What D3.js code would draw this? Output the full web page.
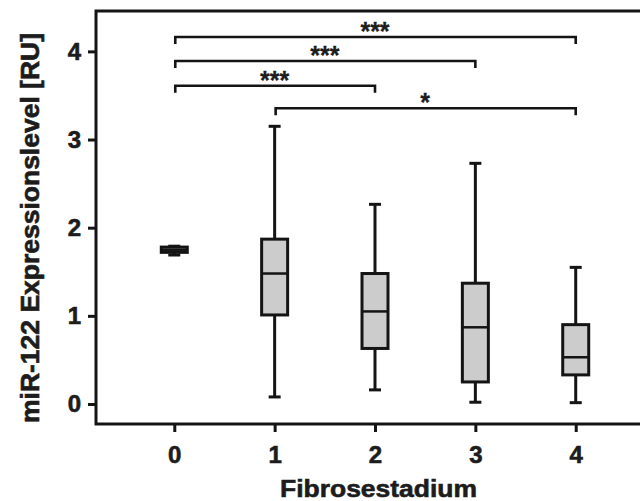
<!DOCTYPE html>
<html>
<head>
<meta charset="utf-8">
<script src="https://cdn.jsdelivr.net/npm/d3@7"></script>
<style>
  html, body { margin: 0; padding: 0; background: #fff; }
  svg { display: block; }
  text { font-family: "Liberation Sans", Arial, Helvetica, sans-serif; font-weight: bold; fill: #1c1c1c;
         stroke: #1c1c1c; stroke-width: 0.6px; }
</style>
</head>
<body>
<svg id="chart" width="640" height="501"></svg>
<script>
// Fibrosis stage groups and box-plot summaries (miR-122, relative units)
const categories = ["0", "1", "2", "3", "4"];
const whiskerLow  = [1.69, 0.08, 0.16, 0.02, 0.015];
const quartile1   = [1.72, 1.01, 0.63, 0.25, 0.33];
const medians     = [1.75, 1.48, 1.05, 0.87, 0.53];
const quartile3   = [1.78, 1.87, 1.48, 1.37, 0.90];
const whiskerHigh = [1.79, 3.15, 2.265, 2.73, 1.55];
const yTickValues = [0, 1, 2, 3, 4];

// Significance brackets: [from group, to group, label]
const sigFrom   = ["0", "0", "0", "1"];
const sigTo     = ["4", "3", "2", "4"];
const sigLabels = ["***", "***", "***", "*"];

const svg = d3.select("#chart");
const ink = "#141414";

const frame = { left: 96, right: 654, top: 11, bottom: 424 };

const x = d3.scalePoint()
  .domain(categories)
  .range([frame.left, frame.right])
  .padding(0.78);

const y = d3.scaleLinear()
  .domain([-0.227, 4.458])
  .range([frame.bottom, frame.top]);

// Plot frame
svg.append("rect")
  .attr("x", frame.left).attr("y", frame.top)
  .attr("width", frame.right - frame.left)
  .attr("height", frame.bottom - frame.top)
  .attr("fill", "none").attr("stroke", ink).attr("stroke-width", 3);

// Axes
const yAxis = svg.append("g")
  .attr("transform", `translate(${frame.left},0)`)
  .call(d3.axisLeft(y).tickValues(yTickValues).tickSize(8).tickPadding(7).tickFormat(d3.format("d")));
const xAxis = svg.append("g")
  .attr("transform", `translate(0,${frame.bottom})`)
  .call(d3.axisBottom(x).tickSize(8).tickPadding(14));

[yAxis, xAxis].forEach(g => {
  g.attr("font-size", null).attr("font-family", null);
  g.select(".domain").remove();
  g.selectAll(".tick line").attr("stroke", ink).attr("stroke-width", 3);
  g.selectAll(".tick text").attr("fill", "#1c1c1c")
    .style("font-size", "24px")
    .style("font-family", '"Liberation Sans", Arial, sans-serif').style("font-weight", "bold");
});

// Box plots
const boxW = 26, capW = 12;
const rows = categories.map((c, i) => ({
  c, lo: whiskerLow[i], q1: quartile1[i], med: medians[i], q3: quartile3[i], hi: whiskerHigh[i]
}));

const box = svg.append("g").selectAll("g").data(rows).join("g")
  .attr("transform", d => `translate(${x(d.c)},0)`);

box.append("line")
  .attr("x1", 0).attr("x2", 0)
  .attr("y1", d => y(d.hi)).attr("y2", d => y(d.lo))
  .attr("stroke", ink).attr("stroke-width", 3);
box.append("line")
  .attr("x1", -capW / 2).attr("x2", capW / 2)
  .attr("y1", d => y(d.hi)).attr("y2", d => y(d.hi))
  .attr("stroke", ink).attr("stroke-width", 3);
box.append("line")
  .attr("x1", -capW / 2).attr("x2", capW / 2)
  .attr("y1", d => y(d.lo)).attr("y2", d => y(d.lo))
  .attr("stroke", ink).attr("stroke-width", 3);
box.append("rect")
  .attr("x", -boxW / 2).attr("width", boxW)
  .attr("y", d => y(d.q3))
  .attr("height", d => y(d.q1) - y(d.q3))
  .attr("fill", "#cccccc").attr("stroke", ink).attr("stroke-width", 3);
box.append("line")
  .attr("x1", -boxW / 2).attr("x2", boxW / 2)
  .attr("y1", d => y(d.med)).attr("y2", d => y(d.med))
  .attr("stroke", ink).attr("stroke-width", 2.5);

// Significance brackets, stacked from the top down
const bracketLevels = [4.163, 3.89, 3.61, 3.354];
const drop = 7;
const sig = sigLabels.map((label, i) => ({ a: sigFrom[i], b: sigTo[i], label, level: bracketLevels[i] }));

const brackets = svg.append("g").selectAll("g").data(sig).join("g");
brackets.append("path")
  .attr("d", d => {
    const x0 = x(d.a) + 1, x1 = x(d.b), yy = y(d.level);
    return `M${x0},${yy + drop}V${yy}H${x1}V${yy + drop}`;
  })
  .attr("fill", "none").attr("stroke", ink).attr("stroke-width", 2.6);
brackets.append("text")
  .attr("x", d => (x(d.a) + x(d.b)) / 2)
  .attr("y", d => y(d.level) + 3)
  .attr("text-anchor", "middle")
  .attr("font-size", 25)
  .style("stroke-width", "0.3px")
  .text(d => d.label);

// Axis titles
svg.append("text")
  .attr("transform", "translate(39,228) rotate(-90)")
  .attr("text-anchor", "middle")
  .attr("font-size", 25)
  .attr("textLength", 390).attr("lengthAdjust", "spacingAndGlyphs")
  .text("miR-122 Expressionslevel [RU]");

svg.append("text")
  .attr("x", 378.5).attr("y", 497)
  .attr("text-anchor", "middle")
  .attr("font-size", 24)
  .attr("textLength", 197).attr("lengthAdjust", "spacingAndGlyphs")
  .text("Fibrosestadium");
</script>
</body>
</html>
